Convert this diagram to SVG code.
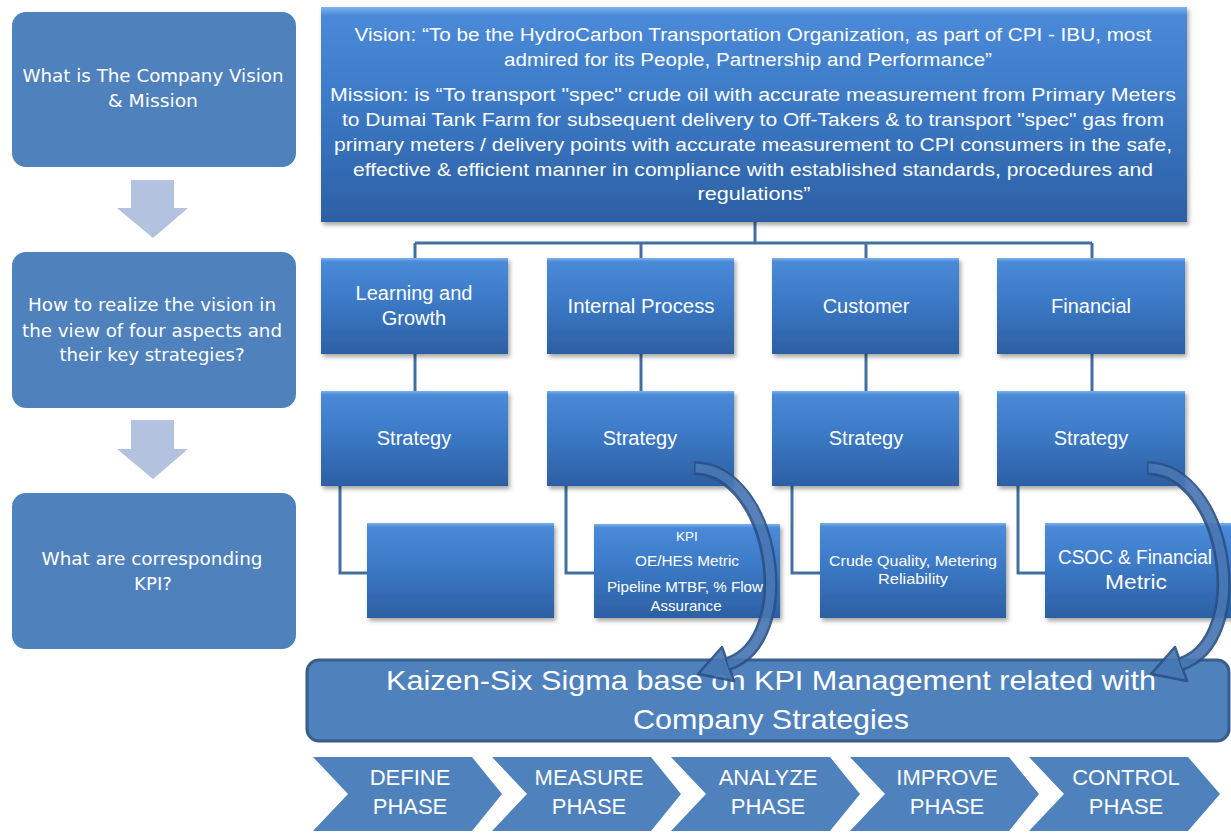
<svg xmlns="http://www.w3.org/2000/svg" width="1231" height="833" viewBox="0 0 1231 833">
<defs>
  <linearGradient id="bx" x1="0" y1="0" x2="0" y2="1">
    <stop offset="0" stop-color="#7fb2ec"/>
    <stop offset="0.04" stop-color="#4a8ad8"/>
    <stop offset="0.45" stop-color="#3c79c6"/>
    <stop offset="1" stop-color="#2c60a3"/>
  </linearGradient>
  <filter id="sh" x="-5%" y="-5%" width="115%" height="125%">
    <feDropShadow dx="2" dy="3" stdDeviation="2" flood-color="#000" flood-opacity="0.35"/>
  </filter>
  <g id="carrow">
    <path d="M694,468 C775,470 800,640 728,664" fill="none" stroke="#2b5185" stroke-width="14"/>
    <polygon points="698,674 734,681 722,647" fill="#4877b3" stroke="#2b5185" stroke-width="2.5" stroke-linejoin="round"/>
    <path d="M695.5,468 C775,470 800,640 728,664" fill="none" stroke="#4877b3" stroke-width="9"/>
  </g>
</defs>
<style>
  .obox { fill: url(#bx); filter: url(#sh); }
  .lbox { fill: #4f81bd; }
  .darr { fill: #b3c2de; }
  .chev { fill: #4f81bd; }
  .t { font-family: "Liberation Sans", Arial, sans-serif; fill: #ffffff; text-anchor: middle; }
  .v { font-family: "DejaVu Sans", Verdana, sans-serif; fill: #ffffff; text-anchor: middle; font-size: 18px; }
  .con { fill: none; stroke: #41709f; stroke-width: 3; }
  .vm { font-size: 18px; }
  .h { font-size: 20px; }
  .k { font-size: 15px; }
  .ph { font-size: 22px; }
  .kz { font-size: 28px; }
</style>
<rect width="1231" height="833" fill="#ffffff"/>

<!-- Left column -->
<g id="q1">
  <rect class="lbox" x="12" y="12" width="284" height="155" rx="14"/>
  <text class="v" x="153" y="82" textLength="261" lengthAdjust="spacingAndGlyphs">What is The Company Vision</text>
  <text class="v" x="153" y="107" textLength="90" lengthAdjust="spacingAndGlyphs">&amp; Mission</text>
</g>
<g id="down1">
  <polygon class="darr" points="131,180 174,180 174,208 188,208 153,238 117,208 131,208"/>
</g>
<g id="q2">
  <rect class="lbox" x="12" y="252" width="284" height="156" rx="14"/>
  <text class="v" x="152" y="311" textLength="248" lengthAdjust="spacingAndGlyphs">How to realize the vision in</text>
  <text class="v" x="152" y="337" textLength="260" lengthAdjust="spacingAndGlyphs">the view of four aspects and</text>
  <text class="v" x="152" y="361" textLength="185" lengthAdjust="spacingAndGlyphs">their key strategies?</text>
</g>
<g id="down2">
  <polygon class="darr" points="131,420 174,420 174,449 188,449 153,479 117,449 131,449"/>
</g>
<g id="q3">
  <rect class="lbox" x="12" y="493" width="284" height="156" rx="14"/>
  <text class="v" x="152" y="565" textLength="221" lengthAdjust="spacingAndGlyphs">What are corresponding</text>
  <text class="v" x="153" y="590" textLength="38" lengthAdjust="spacingAndGlyphs">KPI?</text>
</g>

<!-- Connectors -->
<g id="connectors">
  <path class="con" d="M755,222 V243 M415,243 H1092 M415,243 V258 M641,243 V258 M866,243 V258 M1092,243 V258"/>
  <path class="con" d="M415,354 V391 M641,354 V391 M866,354 V391 M1092,354 V391"/>
  <path class="con" d="M340,486 V573 H367 M566,486 V573 H594 M792,486 V573 H820 M1018,486 V573 H1045"/>
</g>

<!-- Top box -->
<g id="vision">
  <rect class="obox" x="321" y="7" width="866" height="215"/>
  <g class="t vm">
    <text x="753" y="41" textLength="797" lengthAdjust="spacingAndGlyphs">Vision: “To be the  HydroCarbon Transportation Organization, as part of CPI - IBU, most</text>
    <text x="748" y="66" textLength="488" lengthAdjust="spacingAndGlyphs">admired for its People, Partnership and Performance”</text>
    <text x="753" y="101" textLength="846" lengthAdjust="spacingAndGlyphs">Mission: is “To transport "spec"  crude oil with accurate measurement from Primary Meters</text>
    <text x="753" y="126" textLength="822" lengthAdjust="spacingAndGlyphs">to Dumai Tank Farm for subsequent  delivery to Off-Takers &amp; to transport "spec" gas from</text>
    <text x="753" y="151" textLength="838" lengthAdjust="spacingAndGlyphs">primary meters / delivery points  with accurate measurement to CPI consumers  in the  safe,</text>
    <text x="753" y="176" textLength="800" lengthAdjust="spacingAndGlyphs">effective &amp; efficient manner in compliance with established  standards, procedures and</text>
    <text x="754" y="200" textLength="113" lengthAdjust="spacingAndGlyphs">regulations”</text>
  </g>
</g>

<!-- Aspects -->
<g id="learning">
  <rect class="obox" x="321" y="258" width="187" height="96"/>
  <text class="t h" x="414" y="300">Learning and</text>
  <text class="t h" x="414" y="325">Growth</text>
</g>
<g id="internal">
  <rect class="obox" x="547" y="258" width="187" height="96"/>
  <text class="t h" x="641" y="313" textLength="147" lengthAdjust="spacingAndGlyphs">Internal Process</text>
</g>
<g id="customer">
  <rect class="obox" x="772" y="258" width="187" height="96"/>
  <text class="t h" x="866" y="313">Customer</text>
</g>
<g id="financial">
  <rect class="obox" x="997" y="258" width="188" height="96"/>
  <text class="t h" x="1091" y="313">Financial</text>
</g>

<!-- Strategies -->
<g id="strategy1">
  <rect class="obox" x="321" y="391" width="187" height="95"/>
  <text class="t h" x="414" y="445">Strategy</text>
</g>
<g id="strategy2">
  <rect class="obox" x="547" y="391" width="187" height="95"/>
  <text class="t h" x="640" y="445">Strategy</text>
</g>
<g id="strategy3">
  <rect class="obox" x="772" y="391" width="187" height="95"/>
  <text class="t h" x="866" y="445">Strategy</text>
</g>
<g id="strategy4">
  <rect class="obox" x="997" y="391" width="188" height="95"/>
  <text class="t h" x="1091" y="445">Strategy</text>
</g>

<!-- KPI boxes -->
<g id="kpi1">
  <rect class="obox" x="367" y="523" width="187" height="95"/>
</g>
<g id="kpi2">
  <rect class="obox" x="594" y="524" width="186" height="94"/>
  <text class="t" x="687" y="541" font-size="13.5">KPI</text>
  <text class="t k" x="687" y="566" textLength="104" lengthAdjust="spacingAndGlyphs">OE/HES Metric</text>
  <text class="t k" x="685" y="592" textLength="156" lengthAdjust="spacingAndGlyphs">Pipeline MTBF, % Flow</text>
  <text class="t k" x="686" y="611" textLength="71" lengthAdjust="spacingAndGlyphs">Assurance</text>
</g>
<g id="kpi3">
  <rect class="obox" x="820" y="523" width="186" height="95"/>
  <text class="t k" x="913" y="566" textLength="168" lengthAdjust="spacingAndGlyphs">Crude Quality, Metering</text>
  <text class="t k" x="913" y="584" textLength="70" lengthAdjust="spacingAndGlyphs">Reliability</text>
</g>
<g id="kpi4">
  <rect class="obox" x="1045" y="523" width="190" height="95"/>
  <text class="t h" x="1135" y="564" textLength="154" lengthAdjust="spacingAndGlyphs">CSOC &amp; Financial</text>
  <text class="t h" x="1136" y="589" textLength="62" lengthAdjust="spacingAndGlyphs">Metric</text>
</g>

<!-- Kaizen box -->
<g id="kaizen">
  <rect x="307" y="660" width="922" height="81" rx="12" fill="#4f81bd" stroke="#385d8a" stroke-width="3"/>
  <text class="t kz" x="771" y="690" textLength="770" lengthAdjust="spacingAndGlyphs">Kaizen-Six Sigma base on KPI Management related with</text>
  <text class="t kz" x="771" y="729" textLength="276" lengthAdjust="spacingAndGlyphs">Company Strategies</text>
</g>

<!-- Curved arrows -->
<g id="curved-arrows" opacity="0.92">
  <use href="#carrow"/>
  <use href="#carrow" transform="translate(453,0)"/>
</g>

<!-- Phases -->
<g id="define">
  <polygon class="chev" points="313,757 472,757 502,794 472,831 313,831 348,794"/>
  <text class="t ph" x="410" y="785">DEFINE</text>
  <text class="t ph" x="410" y="814">PHASE</text>
</g>
<g id="measure">
  <polygon class="chev" points="492,757 651,757 681,794 651,831 492,831 527,794"/>
  <text class="t ph" x="589" y="785">MEASURE</text>
  <text class="t ph" x="589" y="814">PHASE</text>
</g>
<g id="analyze">
  <polygon class="chev" points="671,757 830,757 860,794 830,831 671,831 706,794"/>
  <text class="t ph" x="768" y="785">ANALYZE</text>
  <text class="t ph" x="768" y="814">PHASE</text>
</g>
<g id="improve">
  <polygon class="chev" points="850,757 1009,757 1039,794 1009,831 850,831 885,794"/>
  <text class="t ph" x="947" y="785">IMPROVE</text>
  <text class="t ph" x="947" y="814">PHASE</text>
</g>
<g id="control">
  <polygon class="chev" points="1029,757 1188,757 1220,794 1188,831 1029,831 1064,794"/>
  <text class="t ph" x="1126" y="785">CONTROL</text>
  <text class="t ph" x="1126" y="814">PHASE</text>
</g>
</svg>
